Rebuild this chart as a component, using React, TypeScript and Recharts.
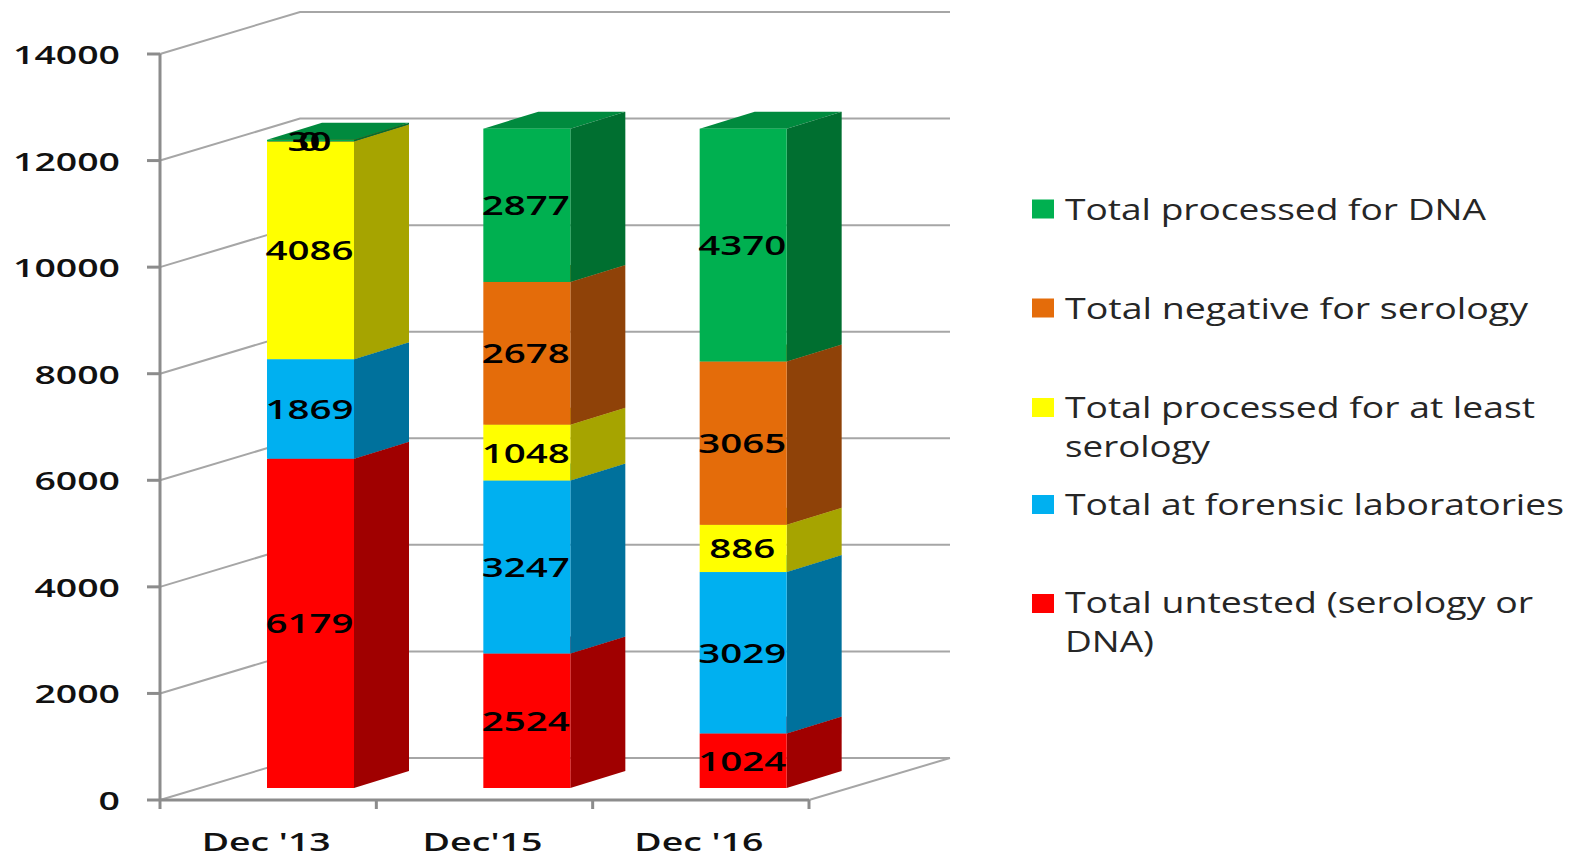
import React from 'react';
import { BarChart, Bar, XAxis, YAxis, CartesianGrid, Legend, LabelList } from 'recharts';

const categories = ["Dec '13", "Dec'15", "Dec '16"];
const untested = [6179, 2524, 1024];
const forensic = [1869, 3247, 3029];
const atLeastSerology = [4086, 1048, 886];
const negativeSerology = [0, 2678, 3065];
const processedDna = [30, 2877, 4370];
const yTicks = [0, 2000, 4000, 6000, 8000, 10000, 12000, 14000];

const rows = categories.map((name, i) => ({
  name,
  untested: untested[i],
  forensic: forensic[i],
  atLeastSerology: atLeastSerology[i],
  negativeSerology: negativeSerology[i],
  processedDna: processedDna[i],
}));

const series = [
  { key: 'untested', label: 'Total untested (serology or DNA)', front: '#ff0000', side: '#a00000', top: '#c00000' },
  { key: 'forensic', label: 'Total at forensic laboratories', front: '#00b0f0', side: '#00719c', top: '#008cc0' },
  { key: 'atLeastSerology', label: 'Total processed for at least serology', front: '#ffff00', side: '#a6a400', top: '#cccc00' },
  { key: 'negativeSerology', label: 'Total negative for serology', front: '#e46c0a', side: '#8f4208', top: '#b55608' },
  { key: 'processedDna', label: 'Total processed for DNA', front: '#00b050', side: '#006f30', top: '#008a3e' },
];

// Legend text layout: each line with its measured width and baseline
const legendLayout: Record<string, { marker: number; lines: [string, number, number][] }> = {
  'Total processed for DNA': { marker: 209, lines: [['Total processed for DNA', 421, 220]] },
  'Total negative for serology': { marker: 308, lines: [['Total negative for serology', 463, 319]] },
  'Total processed for at least serology': {
    marker: 407.5,
    lines: [['Total processed for at least', 470, 418], ['serology', 145, 457]],
  },
  'Total at forensic laboratories': { marker: 504.5, lines: [['Total at forensic laboratories', 499, 515]] },
  'Total untested (serology or DNA)': {
    marker: 603.5,
    lines: [['Total untested (serology or', 468, 613], ['DNA)', 89, 652]],
  },
};

const FONT = '"Open Sans", sans-serif';
const AXIS = '#8c8c8c';
const GRID = '#a6a6a6';
const PLOT_BOTTOM = 800;
const WALL_DX = 140;
const WALL_DY = 42;
const BACK_RIGHT = 950;
const BAR_DX = 42;
const BAR_DY = 12;
const SIDE_DX = 55;
const SIDE_DY = 17;

function GridRow(p: any) {
  const { x1, y1, x2 } = p;
  const bx = x1 + WALL_DX;
  const by = y1 - WALL_DY;
  const isFloor = Math.abs(y1 - PLOT_BOTTOM) < 1;
  return (
    <g>
      <polyline points={`${x1},${y1} ${bx},${by} ${BACK_RIGHT},${by}`} fill="none" stroke={GRID} strokeWidth={2} />
      {isFloor && (
        <polyline points={`${x2},${y1} ${BACK_RIGHT},${by}`} fill="none" stroke={GRID} strokeWidth={2} />
      )}
    </g>
  );
}

function Box3D(p: any) {
  const { x, y, width, height, s } = p;
  const fx = x + BAR_DX;
  const fy = y - BAR_DY;
  const h = Math.max(height, 0);
  return (
    <g>
      <polygon
        points={`${fx},${fy} ${fx + SIDE_DX},${fy - SIDE_DY} ${fx + width + SIDE_DX},${fy - SIDE_DY} ${fx + width},${fy}`}
        fill={s.top}
      />
      <polygon
        points={`${fx + width},${fy} ${fx + width + SIDE_DX},${fy - SIDE_DY} ${fx + width + SIDE_DX},${fy + h - SIDE_DY} ${fx + width},${fy + h}`}
        fill={s.side}
      />
      <rect x={fx} y={fy} width={width} height={h} fill={s.front} />
    </g>
  );
}

function ValueLabel(p: any) {
  const { x, y, width, height, value } = p;
  const t = String(value);
  return (
    <text
      x={x + BAR_DX + width / 2 - 1}
      y={y - BAR_DY + height / 2 + 10}
      textAnchor="middle"
      fontFamily={FONT}
      fontWeight={600}
      fontSize={27}
      fill="#000"
      textLength={t.length * 22}
      lengthAdjust="spacingAndGlyphs"
    >
      {t}
    </text>
  );
}

function YTick(p: any) {
  const { y, payload } = p;
  const t = String(payload.value);
  return (
    <g>
      <line x1={147} y1={y} x2={160} y2={y} stroke={AXIS} strokeWidth={3} />
      <text
        x={120}
        y={y + 10}
        textAnchor="end"
        fontFamily={FONT}
        fontWeight={600}
        fontSize={25}
        fill="#111"
        textLength={t.length * 21.4}
        lengthAdjust="spacingAndGlyphs"
      >
        {t}
      </text>
    </g>
  );
}

const xLabelWidths: Record<string, number> = { "Dec '13": 129, "Dec'15": 120, "Dec '16": 129 };

function XTick(p: any) {
  const { x, payload, index } = p;
  const band = 649 / categories.length;
  const t = String(payload.value);
  return (
    <g>
      <line x1={x - band / 2} y1={PLOT_BOTTOM} x2={x - band / 2} y2={PLOT_BOTTOM + 9} stroke={AXIS} strokeWidth={3} />
      {index === categories.length - 1 && (
        <line x1={x + band / 2} y1={PLOT_BOTTOM} x2={x + band / 2} y2={PLOT_BOTTOM + 9} stroke={AXIS} strokeWidth={3} />
      )}
      <text
        x={x - 2}
        y={851}
        textAnchor="middle"
        fontFamily={FONT}
        fontWeight={600}
        fontSize={26}
        fill="#111"
        textLength={xLabelWidths[t]}
        lengthAdjust="spacingAndGlyphs"
      >
        {t}
      </text>
    </g>
  );
}

function LegendBox(p: any) {
  const payload = [...(p.payload || [])].sort(
    (a: any, b: any) =>
      series.findIndex((s) => s.label === b.value) - series.findIndex((s) => s.label === a.value),
  );
  return (
    <svg width={559} height={500} viewBox="1020 180 559 500" style={{ display: 'block' }}>
      {payload.map((item: any) => {
        const l = legendLayout[item.value];
        if (!l) return null;
        return (
          <g key={item.value}>
            <rect x={1032} y={l.marker - 9.5} width={22} height={19} fill={item.color} />
            {l.lines.map(([text, w, base]) => (
              <text
                key={text}
                x={1065}
                y={base}
                fontFamily={FONT}
                fontSize={29}
                fill="#262626"
                textLength={w}
                lengthAdjust="spacingAndGlyphs"
              >
                {text}
              </text>
            ))}
          </g>
        );
      })}
    </svg>
  );
}

export default function App() {
  return (
    <div style={{ position: 'absolute', left: 0, top: 0, width: 1579, height: 856, background: '#fff' }}>
      <BarChart
        width={1579}
        height={856}
        data={rows}
        margin={{ top: 54, right: 770, bottom: 0, left: 0 }}
        barCategoryGap={0}
      >
        <CartesianGrid vertical={false} horizontal={(p: any) => <GridRow key={p.key} {...p} />} />
        <XAxis
          dataKey="name"
          height={56}
          interval={0}
          axisLine={{ stroke: AXIS, strokeWidth: 3 }}
          tickLine={false}
          tick={(p: any) => <XTick {...p} />}
        />
        <YAxis
          width={160}
          domain={[0, 14000]}
          ticks={yTicks}
          interval={0}
          axisLine={{ stroke: AXIS, strokeWidth: 3 }}
          tickLine={false}
          tick={(p: any) => <YTick {...p} />}
        />
        {series.map((s) => (
          <Bar
            key={s.key}
            dataKey={s.key}
            name={s.label}
            stackId="a"
            fill={s.front}
            barSize={87}
            isAnimationActive={false}
            shape={(p: any) => <Box3D {...p} s={s} />}
          >
            <LabelList dataKey={s.key} content={(p: any) => <ValueLabel {...p} />} />
          </Bar>
        ))}
        <Legend
          align="center"
          verticalAlign="middle"
          layout="vertical"
          itemSorter={null as any}
          wrapperStyle={{ left: 1020, top: 180, width: 559, height: 500 }}
          content={(p: any) => <LegendBox {...p} />}
        />
      </BarChart>
    </div>
  );
}
